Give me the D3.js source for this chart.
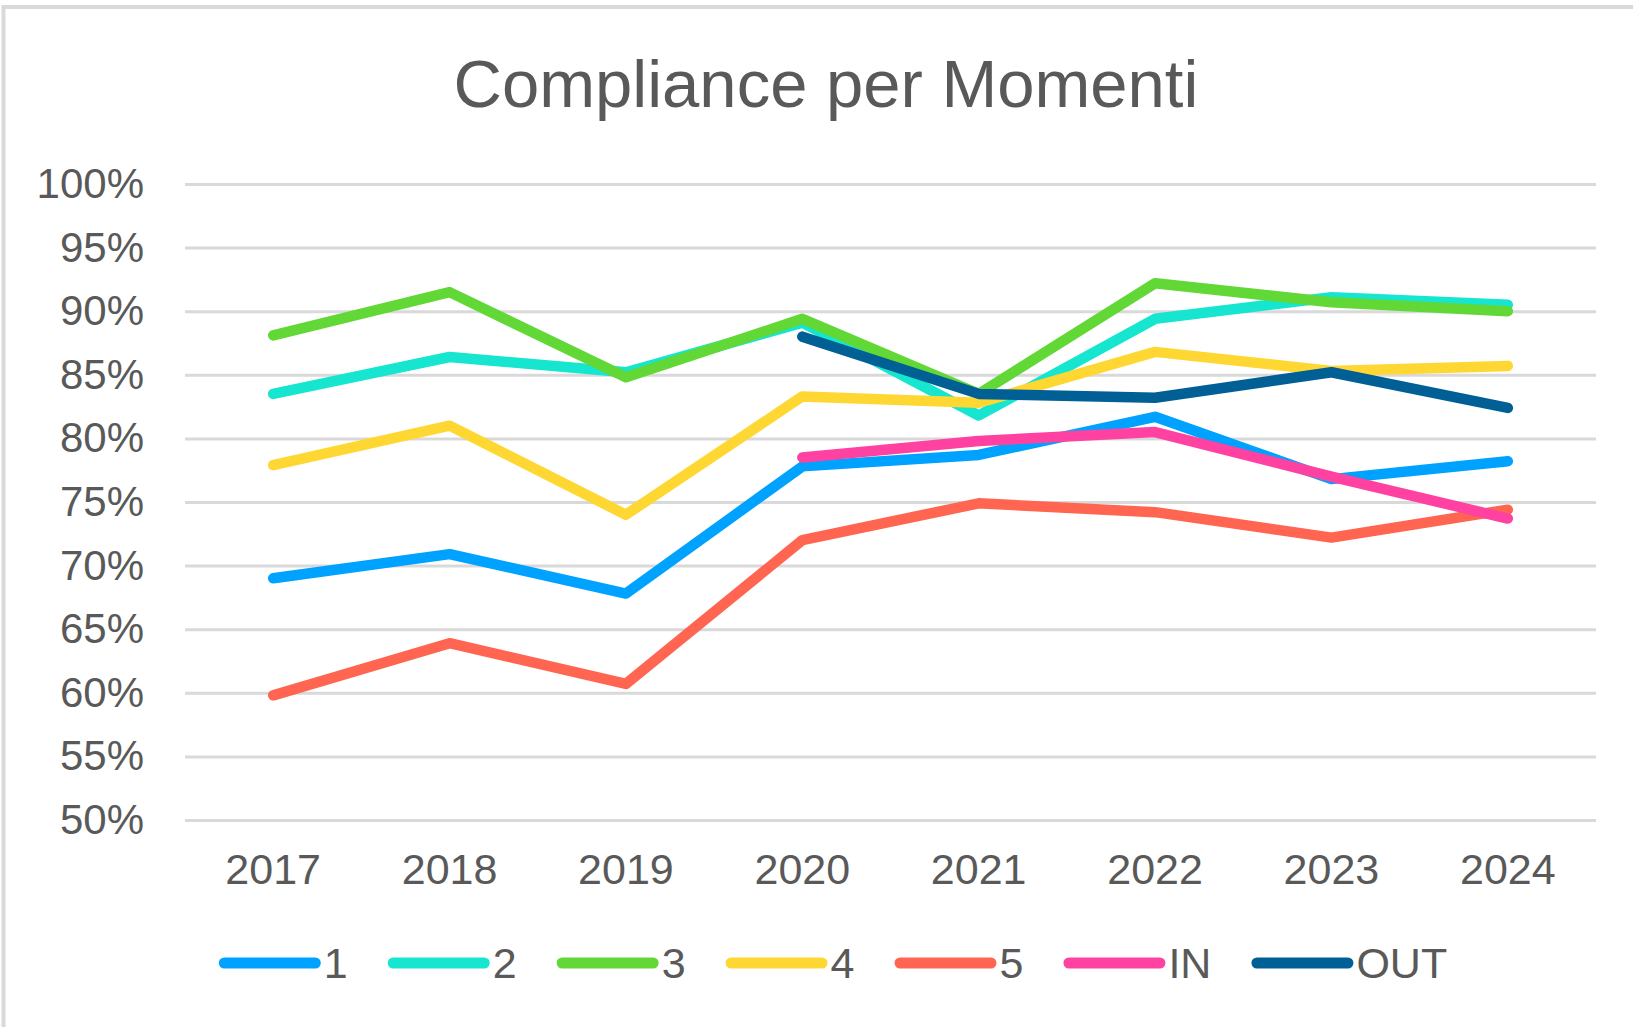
<!DOCTYPE html>
<html>
<head>
<meta charset="utf-8">
<script src="https://cdn.jsdelivr.net/npm/d3@7"></script>
<style>
  html, body { margin: 0; padding: 0; background: #fff; }
  svg { display: block; }
  text { font-family: "Liberation Sans", Arial, sans-serif; fill: #595959; }
</style>
</head>
<body>
<svg id="chart" width="1633" height="1027"></svg>
<script>
// ---- data ----
const years = ["2017", "2018", "2019", "2020", "2021", "2022", "2023", "2024"];
const seriesNames = ["1", "2", "3", "4", "5", "IN", "OUT"];
const seriesColors = ["#00A2FF", "#16E5CF", "#61D836", "#FFD733", "#FF6550", "#FF42A1", "#005F94"];
const s1 = [69.0, 70.9, 67.8, 77.8, 78.7, 81.7, 76.8, 78.2];
const s2 = [83.5, 86.4, 85.2, 89.1, 81.8, 89.4, 91.1, 90.5];
const s3 = [88.1, 91.5, 84.8, 89.4, 83.5, 92.2, 90.7, 90.0];
const s4 = [77.9, 81.0, 74.0, 83.3, 82.8, 86.8, 85.3, 85.7];
const s5 = [59.8, 63.9, 60.7, 72.0, 74.9, 74.2, 72.2, 74.4];
const sIN = [null, null, null, 78.5, 79.8, 80.5, 77.0, 73.7];
const sOUT = [null, null, null, 88.0, 83.5, 83.2, 85.2, 82.4];
const yTicks = [50, 55, 60, 65, 70, 75, 80, 85, 90, 95, 100];
const titleText = "Compliance per Momenti";

const seriesValues = [s1, s2, s3, s4, s5, sIN, sOUT];

(function () {
// ---- layout ----
const svg = d3.select("#chart");
const pLeft = 185, pRight = 1596, pTop = 184, pBottom = 820;

// chart border (left and top visible)
svg.append("rect")
  .attr("x", 3.5).attr("y", 7).attr("width", 1700).attr("height", 1100)
  .attr("fill", "none").attr("stroke", "#d9d9d9").attr("stroke-width", 4);

// title
svg.append("text")
  .attr("x", 826).attr("y", 107)
  .attr("text-anchor", "middle")
  .style("font-size", "67px")
  .text(titleText);

const x = d3.scaleBand().domain(years).range([pLeft, pRight]).padding(0);
const y = d3.scaleLinear().domain([50, 100]).range([pBottom, pTop]);

// gridlines
const grid = svg.append("g").attr("transform", `translate(${pLeft},0)`)
  .call(d3.axisLeft(y).tickValues(yTicks).tickSize(-(pRight - pLeft)).tickFormat(""));
grid.select(".domain").remove();
grid.selectAll("line").attr("stroke", "#d9d9d9").attr("stroke-width", 3);

// y axis labels
const yAxis = svg.append("g").attr("transform", `translate(${pLeft},0)`)
  .call(d3.axisLeft(y).tickValues(yTicks).tickSize(0).tickPadding(41)
    .tickFormat(d => d + "%"));
yAxis.select(".domain").remove();
yAxis.selectAll("text")
  .style("font-size", "42px")
  .style("font-family", "'Liberation Sans', Arial, sans-serif")
  .attr("fill", "#595959");

// x axis labels
const xAxis = svg.append("g").attr("transform", `translate(0,${pBottom})`)
  .call(d3.axisBottom(x).tickSize(0).tickPadding(33));
xAxis.select(".domain").remove();
xAxis.selectAll("text")
  .style("font-size", "43px")
  .style("font-family", "'Liberation Sans', Arial, sans-serif")
  .attr("fill", "#595959");

// lines
const line = d3.line()
  .defined(d => d.v != null)
  .x(d => x(d.year) + x.bandwidth() / 2)
  .y(d => y(d.v));

seriesValues.forEach((vals, i) => {
  const data = years.map((yr, j) => ({ year: yr, v: vals[j] }));
  svg.append("path")
    .datum(data)
    .attr("d", line)
    .attr("fill", "none")
    .attr("stroke", seriesColors[i])
    .attr("stroke-width", 10.5)
    .attr("stroke-linejoin", "round")
    .attr("stroke-linecap", "round");
});

// legend
const legend = svg.append("g");
const legY = 963, sampleLen = 91, gapText = 7, itemGap = 40;
let cx = 0;
seriesNames.forEach((name, i) => {
  const g = legend.append("g");
  g.append("line")
    .attr("x1", cx + 5.5).attr("x2", cx + 5.5 + sampleLen)
    .attr("y1", legY).attr("y2", legY)
    .attr("stroke", seriesColors[i]).attr("stroke-width", 11)
    .attr("stroke-linecap", "round");
  const t = g.append("text")
    .attr("x", cx + sampleLen + 11 + gapText - 4)
    .attr("y", legY)
    .attr("dy", "0.35em")
    .style("font-size", "43px")
    .text(name);
  const w = t.node().getComputedTextLength();
  cx += sampleLen + 11 + gapText - 4 + w + itemGap;
});
const totalW = cx - itemGap;
legend.attr("transform", `translate(${833 - totalW / 2},0)`);
})();
</script>
</body>
</html>
